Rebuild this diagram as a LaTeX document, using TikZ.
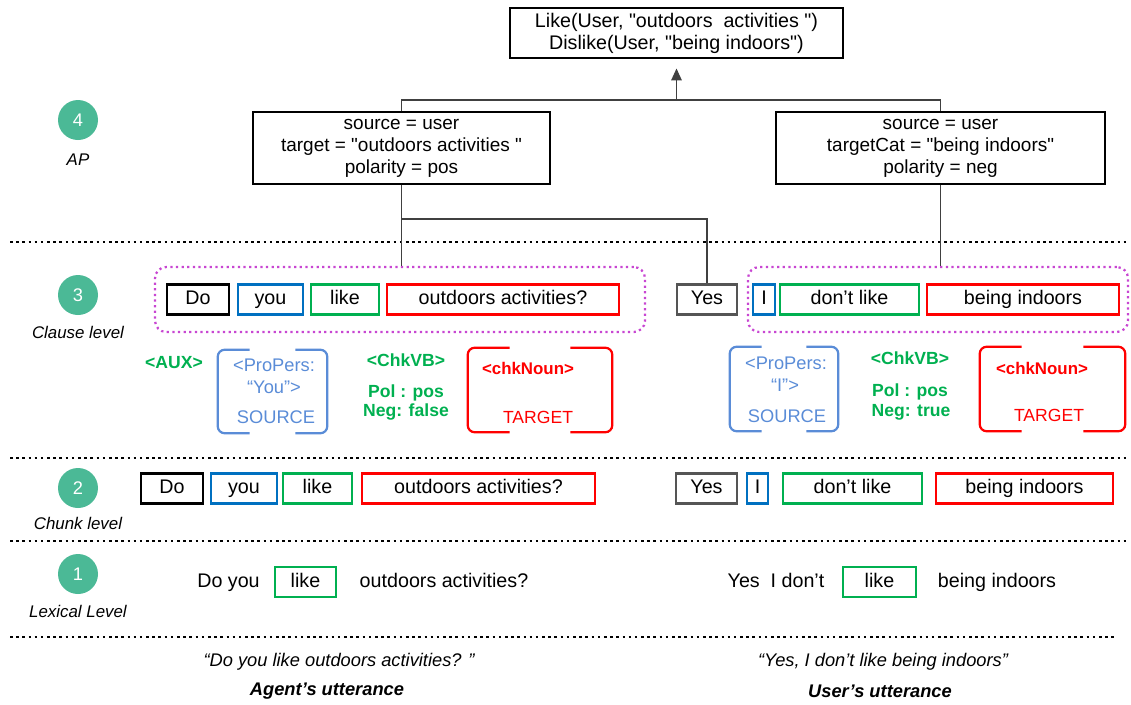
\documentclass[tikz,border=0pt]{standalone}
\usepackage{fontspec}
\setmainfont{Liberation Sans}[Ligatures=TeXOff]
\usetikzlibrary{arrows.meta, positioning}

\definecolor{lvlteal}{RGB}{75,185,150}
\definecolor{chkgreen}{RGB}{0,176,80}
\definecolor{boxblue}{RGB}{0,112,192}
\definecolor{srcblue}{RGB}{90,140,215}
\definecolor{clausepurple}{RGB}{200,70,210}
\definecolor{yesgray}{RGB}{85,85,85}
\definecolor{linegray}{RGB}{64,64,64}

\begin{document}
\begin{tikzpicture}[x=0.025cm, y=-0.025cm,
            wd/.style={minimum width=#1*0.025cm},
            ht/.style={minimum height=#1*0.025cm},
            word/.style={draw, line width=1.5pt, ht=30, inner sep=0pt, text height=10.5pt, text depth=3pt, font=\fontsize{14}{16}\selectfont},
            lex/.style={inner sep=0pt, text height=10.5pt, text depth=3pt, font=\fontsize{14}{16}\selectfont},
            apbox/.style={draw, line width=0.9pt, align=center, inner sep=0pt, font=\fontsize{13.5}{15.6}\selectfont},
            level/.style={circle, fill=lvlteal, minimum size=40*0.025cm, inner sep=0pt, text=white, font=\fontsize{13}{15}\selectfont},
            levelname/.style={font=\fontsize{12}{14}\selectfont\itshape},
            sep/.style={line width=1.8pt, dash pattern=on 1.8pt off 2.6pt},
            clause/.style={draw=clausepurple, line width=1.6pt, dash pattern=on 1.6pt off 2.4pt, rounded corners=8pt, inner sep=0pt},
            tag/.style={font=\fontsize{12.5}{14}\selectfont\bfseries, text=chkgreen},
            srctag/.style={font=\fontsize{13}{15}\selectfont, text=srcblue},
            tgttag/.style={font=\fontsize{12.5}{15}\selectfont, text=red},
            brk/.style={line width=1.6pt, rounded corners=5pt},
            link/.style={draw=linegray, line width=1pt},
            arrow/.style={link, -{Triangle[width=7.5pt,length=8.5pt]}, shorten >=7pt}
        ]
            \useasboundingbox (0,0) rectangle (1131,704);

            % Levels
            \foreach \n/\y/\ly/\name in {4/120/160/AP, 3/295/332/Clause level, 2/488/523/Chunk level, 1/574/611/Lexical Level} {
                \node[level] (lvl\n) at (78,\y) {\n};
                \node[levelname] (lvlname\n) at (78,\ly) {\name};
            }

            % Separators
            \foreach \y in {242,458,541} {
                \draw[sep] (10,\y) -- (1128,\y);
            }
            \draw[sep] (10,637) -- (1116,637);

            % AP
            \node[apbox, wd=333, ht=50, font=\fontsize{14}{15.6}\selectfont] (goal) at (676.5,33)
                {Like(User, "outdoors \ activities ")\\Dislike(User, "being indoors")};
            \node[apbox, wd=297, ht=72] (apL) at (401.5,148)
                {source = user\\target = "outdoors activities "\\polarity = pos};
            \node[apbox, wd=329, ht=72] (apR) at (940.5,148)
                {source = user\\targetCat = "being indoors"\\polarity = neg};

            % Clause level
            \node[clause, wd=490, ht=65] (clauseL) at (400,299.5) {};
            \node[clause, wd=380, ht=65] (clauseR) at (938,299.5) {};
            \foreach \nm/\x/\w/\c/\t in {cDo/198/62/black/Do, cYou/270.5/65/boxblue/you, cLike/345/68/chkgreen/like,
                cObj/503/232/red/outdoors activities?, cYes/707/60/yesgray/Yes, cI/764/22/boxblue/I,
                cDont/849.5/139/chkgreen/don’t like, cBeing/1023/192/red/being indoors} {
                \node[word, draw=\c, wd=\w] (\nm) at (\x,299.5) {\t};
            }

            % Clause tags
            \node[tag] (auxL) at (174,363) {<AUX>};
            \node[wd=109, ht=83] (srcL) at (272.5,391.5) {};
            \node[srctag] (srcL1) at (274,365) {<ProPers:};
            \node[srctag] (srcL2) at (274,387) {“You”>};
            \node[srctag] (srcL3) at (276,417) {SOURCE};
            \node[tag] (chkL) at (406,360) {<ChkVB>};
            \node[tag] (polL) at (406,393) {Pol : pos};
            \node[tag] (negL) at (406,412) {Neg: false};
            \node[wd=144, ht=84] (tgtL) at (540,390) {};
            \node[tgttag, font=\fontsize{12}{14}\selectfont\bfseries] (tgtL1) at (528,368) {<chkNoun>};
            \node[tgttag] (tgtL2) at (538,417) {TARGET};

            \node[wd=108, ht=84] (srcR) at (784,389) {};
            \node[srctag] (srcR1) at (786,363) {<ProPers:};
            \node[srctag] (srcR2) at (785,385) {“I”>};
            \node[srctag] (srcR3) at (787,416) {SOURCE};
            \node[tag] (chkR) at (910,358) {<ChkVB>};
            \node[tag] (polR) at (910,392) {Pol : pos};
            \node[tag] (negR) at (911,412) {Neg: true};
            \node[wd=145, ht=84] (tgtR) at (1052.5,389) {};
            \node[tgttag, font=\fontsize{12}{14}\selectfont\bfseries] (tgtR1) at (1042,368) {<chkNoun>};
            \node[tgttag] (tgtR2) at (1049,415) {TARGET};

            \foreach \b/\c/\a in {srcL/srcblue/32, tgtL/red/42, srcR/srcblue/32, tgtR/red/42} {
                \draw[brk, \c] ([xshift=\a*0.025cm]\b.north west) -- (\b.north west) -- (\b.south west) -- ([xshift=\a*0.025cm]\b.south west);
                \draw[brk, \c] ([xshift=-\a*0.025cm]\b.north east) -- (\b.north east) -- (\b.south east) -- ([xshift=-\a*0.025cm]\b.south east);
            }

            % Chunk level
            \foreach \nm/\x/\w/\c/\t in {kDo/172/62/black/Do, kYou/244/66/boxblue/you, kLike/317.5/69/chkgreen/like,
                kObj/478.5/233/red/outdoors activities?, kYes/706.5/61/yesgray/Yes, kI/757.5/21/boxblue/I,
                kDont/852.5/139/chkgreen/don’t like, kBeing/1024.5/177/red/being indoors} {
                \node[word, draw=\c, wd=\w] (\nm) at (\x,488.5) {\t};
            }

            % Lexical level
            \node[lex] (lDoYou) at (228.5,582) {Do you};
            \node[word, draw=chkgreen, wd=61] (lLike) at (305.5,582) {like};
            \node[lex] (lObj) at (444,582) {outdoors activities?};
            \node[lex] (lYesI) at (776,582) {Yes \ I don’t};
            \node[word, draw=chkgreen, wd=73] (lLikeR) at (879.5,582) {like};
            \node[lex] (lBeing) at (997,582) {being indoors};

            % Utterances
            \node[font=\fontsize{13}{15}\selectfont\itshape] (agentQ) at (339,662) {“Do you like outdoors activities? ”};
            \node[font=\fontsize{13}{15}\selectfont\bfseries\itshape] (agent) at (327,691) {Agent’s utterance};
            \node[font=\fontsize{13}{15}\selectfont\itshape] (userQ) at (883,662) {“Yes, I don’t like being indoors”};
            \node[font=\fontsize{13}{15}\selectfont\bfseries\itshape] (user) at (880,691) {User’s utterance};

            % Connections
            \coordinate (join) at (676.5,100);
            \coordinate (split) at (401.5,219);
            \draw[link] (apL.north) |- (join) -| (apR.north);
            \draw[arrow] (join) -- (goal.south);
            \draw[link] (apL.south) -- (apL.south |- clauseL.north);
            \draw[link] (split) -| (cYes.north);
            \draw[link] (apR.south) -- (apR.south |- clauseR.north);
        \end{tikzpicture}
\end{document}
